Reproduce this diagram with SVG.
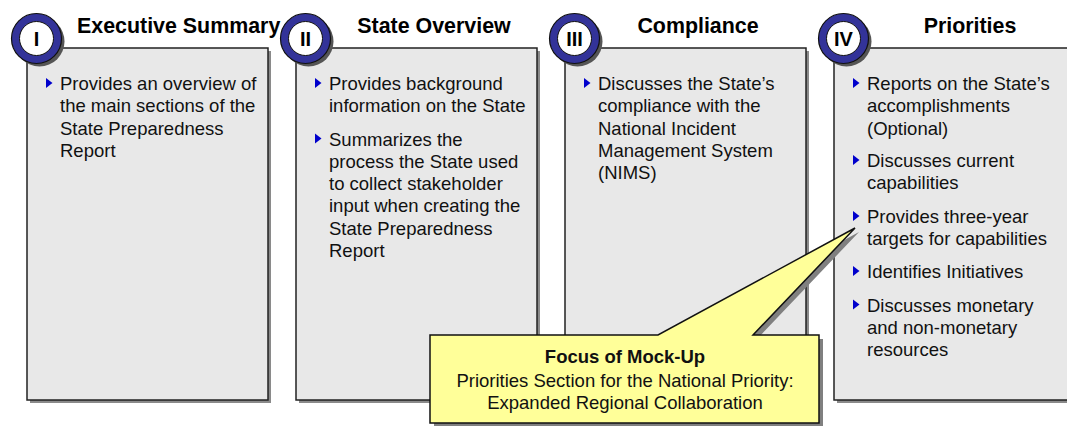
<svg xmlns="http://www.w3.org/2000/svg" xmlns:xlink="http://www.w3.org/1999/xlink" width="1067" height="426" viewBox="0 0 1067 426">
<style>
.box{fill:#e8e8e8;stroke:#222;stroke-width:1.5}
.shadow{fill:#8a8a8a}
.ring{fill:#333399;stroke:#111;stroke-width:1.2}
.inner{fill:#fff;stroke:#111;stroke-width:1}
.cshadow{fill:#555}
.title{font-family:"Liberation Sans",Arial,sans-serif;font-weight:bold;font-size:21.4px;fill:#000}
.num{font-family:"Liberation Sans",Arial,sans-serif;font-weight:bold;font-size:20px;fill:#000;text-anchor:middle}
.body{font-family:"Liberation Sans",Arial,sans-serif;font-size:18.5px;fill:#111}
.call{fill:#ffff99;stroke:#111;stroke-width:1.5}
.ctext{font-family:"Liberation Sans",Arial,sans-serif;font-size:18.5px;fill:#111;text-anchor:middle}
</style>
<defs>
<path id="bul" d="M0,0 L0,10 L6.5,5 Z" fill="#0000cc"/>
</defs>

<g id="node-1">
<rect class="shadow" x="30" y="51" width="241" height="352"/>
<rect class="box" x="27" y="48" width="241" height="352"/>
<circle class="cshadow" cx="39.5" cy="41.5" r="25"/>
<circle class="ring" cx="36.5" cy="38.5" r="25"/>
<circle class="inner" cx="36.5" cy="38.5" r="17"/>
<text class="num" x="36.5" y="45.5">I</text>
<text class="title" x="77" y="33">Executive Summary</text>
<use xlink:href="#bul" x="46" y="78"/>
<text class="body" x="60" y="90">Provides an overview of</text>
<text class="body" x="60" y="112.3">the main sections of the</text>
<text class="body" x="60" y="134.6">State Preparedness</text>
<text class="body" x="60" y="156.9">Report</text>
</g>

<g id="node-2">
<rect class="shadow" x="299" y="51" width="241" height="352"/>
<rect class="box" x="296" y="48" width="241" height="352"/>
<circle class="cshadow" cx="308.5" cy="41.5" r="25"/>
<circle class="ring" cx="305.5" cy="38.5" r="25"/>
<circle class="inner" cx="305.5" cy="38.5" r="17"/>
<text class="num" x="305.5" y="45.5">II</text>
<text class="title" x="434" y="33" text-anchor="middle">State Overview</text>
<use xlink:href="#bul" x="315" y="78"/>
<text class="body" x="329" y="90">Provides background</text>
<text class="body" x="329" y="112.3">information on the State</text>
<use xlink:href="#bul" x="315" y="133.5"/>
<text class="body" x="329" y="145.5">Summarizes the</text>
<text class="body" x="329" y="167.8">process the State used</text>
<text class="body" x="329" y="190.1">to collect stakeholder</text>
<text class="body" x="329" y="212.4">input when creating the</text>
<text class="body" x="329" y="234.7">State Preparedness</text>
<text class="body" x="329" y="257">Report</text>
</g>

<g id="node-3">
<rect class="shadow" x="568" y="51" width="241" height="352"/>
<rect class="box" x="565" y="48" width="241" height="352"/>
<circle class="cshadow" cx="577.5" cy="41.5" r="25"/>
<circle class="ring" cx="574.5" cy="38.5" r="25"/>
<circle class="inner" cx="574.5" cy="38.5" r="17"/>
<text class="num" x="574.5" y="45.5">III</text>
<text class="title" x="698" y="33" text-anchor="middle">Compliance</text>
<use xlink:href="#bul" x="584" y="78"/>
<text class="body" x="598" y="90">Discusses the State’s</text>
<text class="body" x="598" y="112.3">compliance with the</text>
<text class="body" x="598" y="134.6">National Incident</text>
<text class="body" x="598" y="156.9">Management System</text>
<text class="body" x="598" y="179.2">(NIMS)</text>
</g>

<g id="node-4">
<rect class="shadow" x="837" y="51" width="241" height="352"/>
<rect class="box" x="834" y="48" width="241" height="352"/>
<circle class="cshadow" cx="846.5" cy="41.5" r="25"/>
<circle class="ring" cx="843.5" cy="38.5" r="25"/>
<circle class="inner" cx="843.5" cy="38.5" r="17"/>
<text class="num" x="843.5" y="45.5">IV</text>
<text class="title" x="970" y="33" text-anchor="middle">Priorities</text>
<use xlink:href="#bul" x="853" y="78"/>
<text class="body" x="867" y="90">Reports on the State’s</text>
<text class="body" x="867" y="112.3">accomplishments</text>
<text class="body" x="867" y="134.6">(Optional)</text>
<use xlink:href="#bul" x="853" y="155"/>
<text class="body" x="867" y="167">Discusses current</text>
<text class="body" x="867" y="189.3">capabilities</text>
<use xlink:href="#bul" x="853" y="211"/>
<text class="body" x="867" y="223">Provides three-year</text>
<text class="body" x="867" y="245.3">targets for capabilities</text>
<use xlink:href="#bul" x="853" y="266"/>
<text class="body" x="867" y="278">Identifies Initiatives</text>
<use xlink:href="#bul" x="853" y="299.5"/>
<text class="body" x="867" y="311.5">Discusses monetary</text>
<text class="body" x="867" y="333.8">and non-monetary</text>
<text class="body" x="867" y="356.1">resources</text>
</g>

<g id="connectors">
</g>

<g id="callout">
<path d="M434,339 L662,339 L859,232 L757,339 L823,339 L823,427 L434,427 Z" fill="#808080"/>
<path class="call" d="M430,335 L658,335 L855,228 L753,335 L819,335 L819,423 L430,423 Z"/>
<text class="ctext" x="625" y="363" font-weight="bold">Focus of Mock-Up</text>
<text class="ctext" x="625" y="386.5">Priorities Section for the National Priority:</text>
<text class="ctext" x="625" y="409">Expanded Regional Collaboration</text>
</g>
</svg>
